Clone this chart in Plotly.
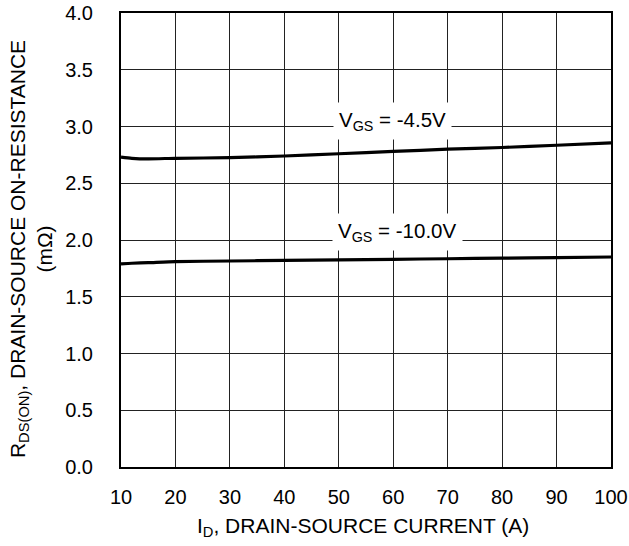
import plotly.graph_objects as go

# Drain current (A)
id_a = [10, 12, 15, 20, 30, 40, 50, 60, 70, 80, 90, 100]
# On-resistance (mOhm) at each gate-source voltage
rds_vgs_4v5 = [2.73, 2.72, 2.715, 2.72, 2.725, 2.74, 2.76, 2.78, 2.80, 2.815, 2.835, 2.855]
rds_vgs_10v = [1.79, 1.795, 1.80, 1.81, 1.815, 1.82, 1.825, 1.83, 1.835, 1.84, 1.845, 1.85]

x_ticks = [10, 20, 30, 40, 50, 60, 70, 80, 90, 100]
y_ticks = [0.0, 0.5, 1.0, 1.5, 2.0, 2.5, 3.0, 3.5, 4.0]

font_family = "Liberation Sans, Arial, sans-serif"

fig = go.Figure()
for ys in (rds_vgs_4v5, rds_vgs_10v):
    fig.add_trace(go.Scatter(
        x=id_a, y=ys, mode="lines",
        line=dict(color="black", width=3.2, shape="spline", smoothing=0.6),
        showlegend=False, hoverinfo="skip",
    ))

# Curve labels on white boxes that interrupt the grid
labels = [
    (59.8, 3.05, "V<sub>GS</sub> = -4.5V"),
    (60.7, 2.07, "V<sub>GS</sub> = -10.0V"),
]
for lx, ly, txt in labels:
    fig.add_annotation(
        x=lx, y=ly, text=txt, showarrow=False,
        bgcolor="white", borderpad=5,
        font=dict(family=font_family, size=20.5, color="black"),
    )

# Axis titles
fig.add_annotation(
    xref="paper", yref="paper", x=-0.1837, y=0.480,
    xanchor="center", yanchor="middle", textangle=-90, showarrow=False,
    text="R<sub>DS(ON)</sub>, DRAIN-SOURCE ON-RESISTANCE<br>(m\u03a9)",
    font=dict(family=font_family, size=21, color="black"),
)
fig.add_annotation(
    xref="paper", yref="paper", x=0.494, y=-0.132,
    xanchor="center", yanchor="middle", showarrow=False,
    text="I<sub>D</sub>, DRAIN-SOURCE CURRENT (A)",
    font=dict(family=font_family, size=21, color="black"),
)

axis_common = dict(
    showgrid=True, gridcolor="#222222", gridwidth=1,
    showline=True, linecolor="black", linewidth=2, mirror=True,
    zeroline=False, ticks="", automargin=False,
    tickfont=dict(family=font_family, size=20, color="black"),
)

fig.update_xaxes(
    range=[10, 100], tickvals=x_ticks, ticktext=[str(v) for v in x_ticks],
    ticklabelstandoff=11, **axis_common,
)
fig.update_yaxes(
    range=[0, 4], tickvals=y_ticks, ticktext=[f"{v:.1f}" for v in y_ticks],
    ticklabelstandoff=22, **axis_common,
)

fig.update_layout(
    width=629, height=546,
    margin=dict(l=121, r=18, t=13, b=79, autoexpand=False),
    paper_bgcolor="white", plot_bgcolor="white",
    font=dict(family=font_family, size=16, color="black"),
)

fig.write_html("out.html")
